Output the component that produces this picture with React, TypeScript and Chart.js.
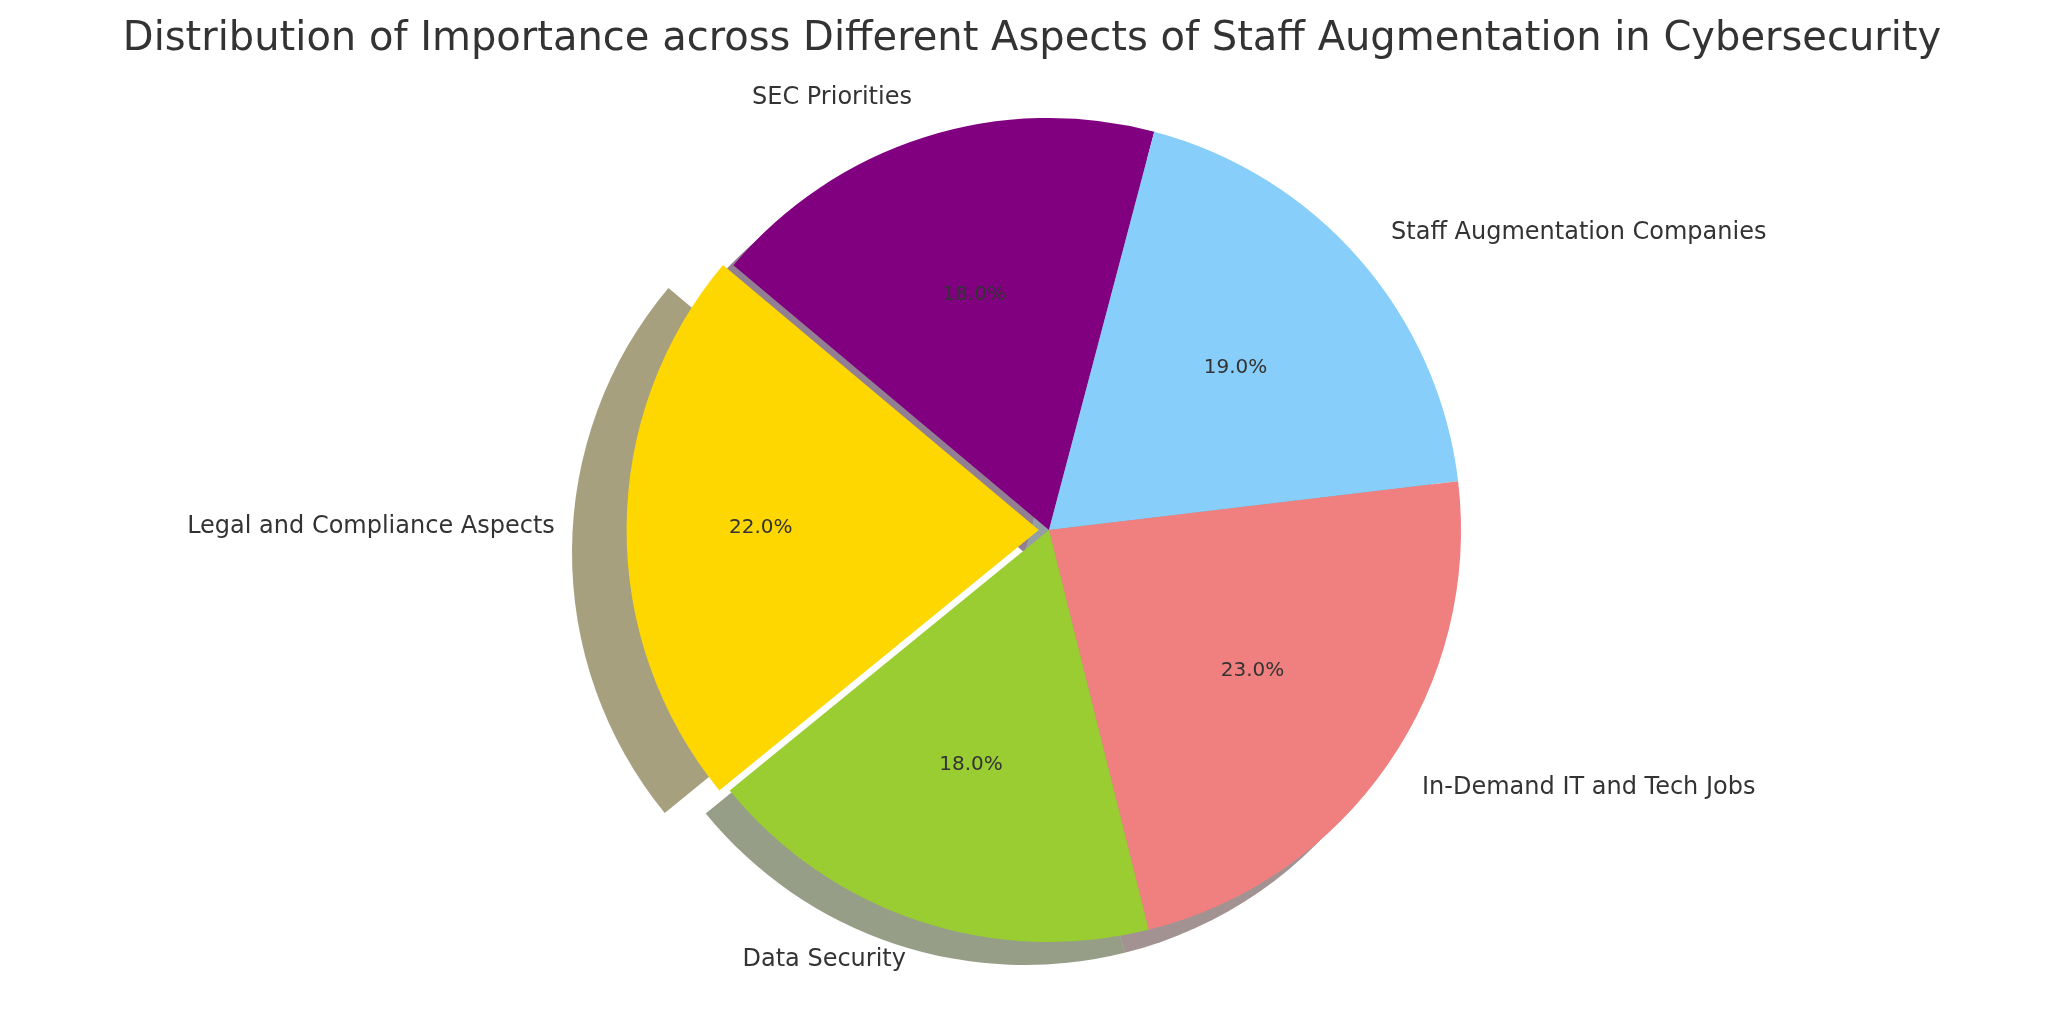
import React, { useEffect, useRef } from "react";
import { Chart, registerables } from "chart.js";
Chart.register(...registerables);

const TITLE = "Distribution of Importance across Different Aspects of Staff Augmentation in Cybersecurity";
// clockwise order (matplotlib counter-clockwise order reversed)
const labels = ["SEC Priorities", "Staff Augmentation Companies", "In-Demand IT and Tech Jobs", "Data Security", "Legal and Compliance Aspects"];
const values = [18, 19, 23, 18, 22];
const colors = ["#800080", "#87CEFA", "#F08080", "#9ACD32", "#FFD700"];
const offsets = [0, 0, 0, 0, 41];

function shadowColor(hex: string) {
  const n = parseInt(hex.slice(1), 16);
  const r = (n >> 16) & 255, g = (n >> 8) & 255, b = n & 255;
  return `rgba(${Math.round(r * 0.3)},${Math.round(g * 0.3)},${Math.round(b * 0.3)},0.5)`;
}

const piePlugin = {
  id: "piedeco",
  beforeDatasetsDraw(chart: any) {
    const ctx = chart.ctx;
    const meta = chart.getDatasetMeta(0);
    meta.data.forEach((arc: any, i: number) => {
      const { x, y, startAngle, endAngle, outerRadius } = arc.getProps(["x", "y", "startAngle", "endAngle", "outerRadius"], true);
      const mid = (startAngle + endAngle) / 2;
      const ox = Math.cos(mid) * offsets[i] - 24;
      const oy = Math.sin(mid) * offsets[i] + 23;
      ctx.save();
      ctx.beginPath();
      ctx.moveTo(x + ox, y + oy);
      ctx.arc(x + ox, y + oy, outerRadius, startAngle, endAngle);
      ctx.closePath();
      ctx.fillStyle = shadowColor(colors[i]);
      ctx.fill();
      ctx.restore();
    });
  },
  afterDatasetsDraw(chart: any) {
    const ctx = chart.ctx;
    const meta = chart.getDatasetMeta(0);
    const total = values.reduce((a, b) => a + b, 0);
    ctx.save();
    ctx.fillStyle = "#333333";
    meta.data.forEach((arc: any, i: number) => {
      const { x, y, startAngle, endAngle, outerRadius } = arc.getProps(["x", "y", "startAngle", "endAngle", "outerRadius"], true);
      const mid = (startAngle + endAngle) / 2;
      const cx = x + Math.cos(mid) * offsets[i];
      const cy = y + Math.sin(mid) * offsets[i];
      const c = Math.cos(mid), s = Math.sin(mid);
      ctx.font = "24px 'DejaVu Sans'";
      ctx.textBaseline = "middle";
      ctx.textAlign = c > 0.001 ? "left" : c < -0.001 ? "right" : "center";
      ctx.fillText(labels[i], cx + c * outerRadius * 1.1, cy + s * outerRadius * 1.1);
      ctx.font = "20px 'DejaVu Sans'";
      ctx.textAlign = "center";
      ctx.fillText(((values[i] / total) * 100).toFixed(1) + "%", cx + c * outerRadius * 0.6, cy + s * outerRadius * 0.6);
    });
    ctx.font = "40px 'DejaVu Sans'";
    ctx.textAlign = "center";
    ctx.textBaseline = "middle";
    ctx.fillText(TITLE, 1032, 40);
    ctx.restore();
  },
};

export default function App() {
  const ref = useRef<HTMLCanvasElement>(null);
  useEffect(() => {
    const chart = new Chart(ref.current!, {
      type: "pie",
      data: {
        labels,
        datasets: [{ data: values, backgroundColor: colors, borderWidth: 0, offset: offsets }],
      },
      options: {
        animation: false,
        responsive: false,
        rotation: -50,
        radius: 412,
        layout: { padding: { left: 34, right: 0, top: 46, bottom: 0 } },
        plugins: { legend: { display: false }, tooltip: { enabled: false }, title: { display: false } },
      },
      plugins: [piePlugin],
    });
    return () => chart.destroy();
  }, []);
  return (
    <div style={{ position: "fixed", left: 0, top: 0, width: 2064, height: 1014, background: "#fff" }}>
      <canvas ref={ref} width={2064} height={1014} style={{ width: 2064, height: 1014 }} />
    </div>
  );
}
